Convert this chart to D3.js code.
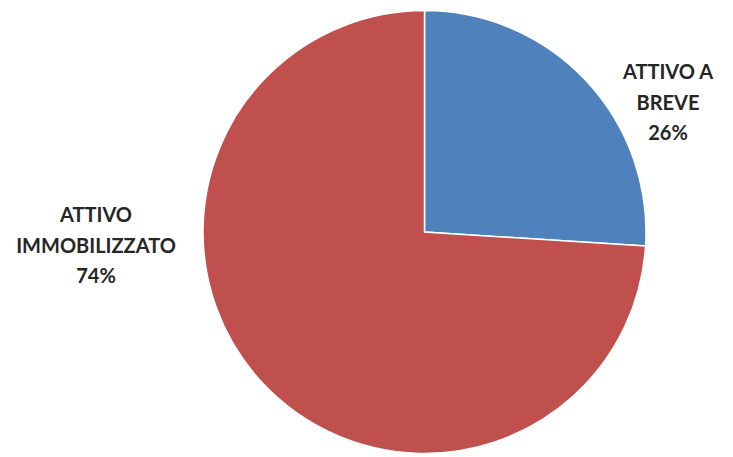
<!DOCTYPE html>
<html>
<head>
<meta charset="utf-8">
<script src="https://cdn.jsdelivr.net/npm/d3@7"></script>
<style>
html,body{margin:0;padding:0;background:#fff;}
svg{display:block;}
</style>
</head>
<body>
<svg id="chart" width="733" height="457"></svg>
<script>
const categories = ["ATTIVO A BREVE", "ATTIVO IMMOBILIZZATO"];
const values = [26, 74];
const labelLines = [["ATTIVO A", "BREVE", "26%"], ["ATTIVO", "IMMOBILIZZATO", "74%"]];
const colors = ["#4F81BD", "#C0504D"];

const svg = d3.select("#chart");
const cx = 424.5, cy = 232, r = 221.5;

const pie = d3.pie().sort(null).value(d => d.value);
const data = categories.map((c, i) => ({cat: c, value: values[i], lines: labelLines[i], color: colors[i]}));
const arcs = pie(data);
const arc = d3.arc().innerRadius(0).outerRadius(r);

const g = svg.append("g").attr("transform", `translate(${cx},${cy})`);
g.selectAll("path").data(arcs).join("path")
  .attr("d", arc)
  .attr("fill", d => d.data.color)
  .attr("stroke", "#fff")
  .attr("stroke-width", 1.5);

const labelPos = [[668 - cx, 72 - cy], [96 - cx, 215 - cy]];
const lineH = 30.5;
arcs.forEach((a, i) => {
  const t = g.append("text")
    .attr("text-anchor", "middle")
    .attr("font-family", "Lato, 'Open Sans', sans-serif")
    .attr("font-weight", "bold")
    .attr("font-size", 20)
    .attr("fill", "#262626");
  a.data.lines.forEach((ln, j) => {
    t.append("tspan")
      .attr("x", labelPos[i][0])
      .attr("y", labelPos[i][1] + j * lineH)
      .attr("dy", "0.35em")
      .text(ln);
  });
});
</script>
</body>
</html>
